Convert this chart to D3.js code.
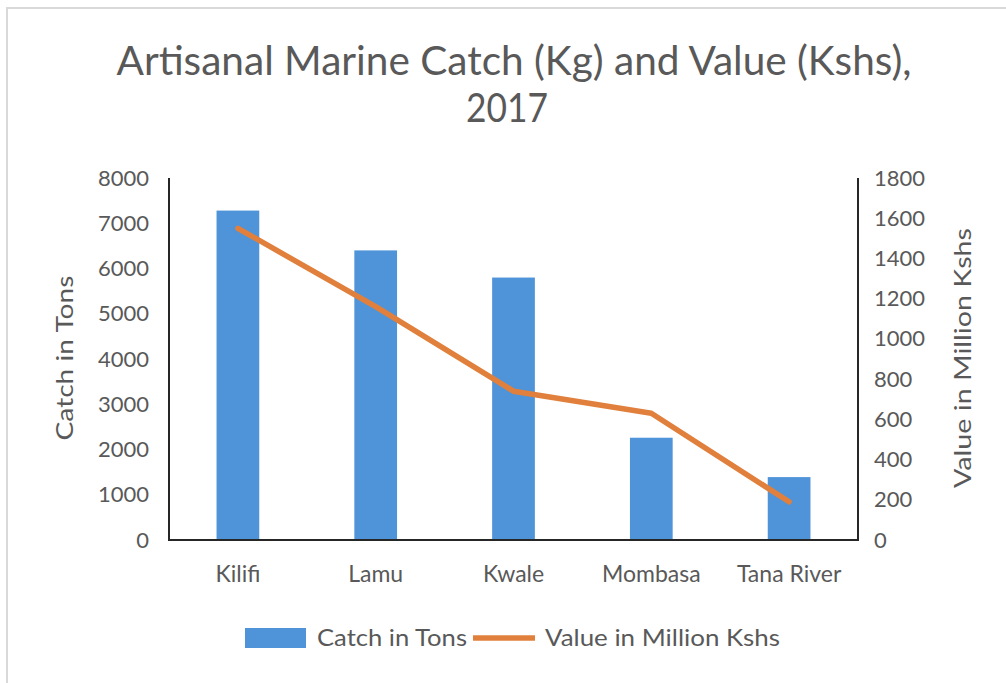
<!DOCTYPE html>
<html>
<head>
<meta charset="utf-8">
<script src="https://cdn.jsdelivr.net/npm/d3@7"></script>
<style>
  html, body { margin: 0; padding: 0; background: #fff; }
  svg { display: block; }
  text { font-family: Lato, "Open Sans", sans-serif; fill: #595959; }
</style>
</head>
<body>
<svg id="chart" width="1006" height="683"></svg>
<script>
// Artisanal marine catch by county, 2017
const counties = ["Kilifi", "Lamu", "Kwale", "Mombasa", "Tana River"];
const catchTons = [7280, 6400, 5800, 2260, 1390];
const valueMillionKshs = [1550, 1160, 740, 630, 190];
const catchTicks = [0, 1000, 2000, 3000, 4000, 5000, 6000, 7000, 8000];
const valueTicks = [0, 200, 400, 600, 800, 1000, 1200, 1400, 1600, 1800];

const svg = d3.select("#chart");
const W = 1006, H = 683;
const plot = { left: 169, right: 858, top: 178, bottom: 540 };

// Chart area frame
svg.append("rect")
  .attr("x", 7).attr("y", 8)
  .attr("width", W + 10).attr("height", H + 10)
  .attr("fill", "#fff")
  .attr("stroke", "#d9d9d9")
  .attr("stroke-width", 2);

// Title
const title = svg.append("g").attr("class", "title");
title.append("text")
  .attr("x", 514).attr("y", 75)
  .attr("text-anchor", "middle")
  .attr("font-size", 41)
  .attr("textLength", 795)
  .attr("lengthAdjust", "spacingAndGlyphs")
  .text("Artisanal Marine Catch (Kg) and Value (Kshs),");
title.append("text")
  .attr("x", 507).attr("y", 122)
  .attr("text-anchor", "middle")
  .attr("font-size", 41)
  .attr("textLength", 82)
  .attr("lengthAdjust", "spacingAndGlyphs")
  .text("2017");

// Scales
const x = d3.scaleBand()
  .domain(counties)
  .range([plot.left, plot.right])
  .paddingInner(0.69)
  .paddingOuter(0.345);
const yCatch = d3.scaleLinear().domain([0, 8000]).range([plot.bottom, plot.top]);
const yValue = d3.scaleLinear().domain([0, 1800]).range([plot.bottom, plot.top]);

// Bars: catch in tons
svg.append("g").selectAll("rect")
  .data(counties)
  .join("rect")
  .attr("x", d => x(d))
  .attr("width", x.bandwidth())
  .attr("y", (d, i) => yCatch(catchTons[i]))
  .attr("height", (d, i) => yCatch(0) - yCatch(catchTons[i]))
  .attr("fill", "#4f93d8");

// Line: value in million Kshs
const line = d3.line()
  .x((d, i) => x(counties[i]) + x.bandwidth() / 2)
  .y(d => yValue(d));
svg.append("path")
  .datum(valueMillionKshs)
  .attr("d", line)
  .attr("fill", "none")
  .attr("stroke", "#e0803c")
  .attr("stroke-width", 5.5)
  .attr("stroke-linejoin", "round")
  .attr("stroke-linecap", "round");

// Axes
const tickSize = 22;
const labelSize = 23;
const leftAxis = svg.append("g")
  .attr("transform", `translate(${plot.left},0)`)
  .call(d3.axisLeft(yCatch).tickValues(catchTicks).tickSize(0).tickPadding(20).tickFormat(d3.format("d")));
const rightAxis = svg.append("g")
  .attr("transform", `translate(${plot.right},0)`)
  .call(d3.axisRight(yValue).tickValues(valueTicks).tickSize(0).tickPadding(16).tickFormat(d3.format("d")));
const bottomAxis = svg.append("g")
  .attr("transform", `translate(0,${plot.bottom})`)
  .call(d3.axisBottom(x).tickSize(0).tickPadding(26));

[leftAxis, rightAxis].forEach(g => {
  g.select(".domain").remove();
  g.selectAll("text")
    .attr("font-size", tickSize)
    .attr("font-family", "Lato, 'Open Sans', sans-serif")
    .attr("fill", "#595959");
});
bottomAxis.select(".domain").remove();
bottomAxis.selectAll("text")
  .attr("font-size", labelSize)
  .attr("font-family", "Lato, 'Open Sans', sans-serif")
  .attr("fill", "#595959");

// Axis lines
const axisStroke = "#262626";
svg.append("line")
  .attr("x1", plot.left).attr("x2", plot.left)
  .attr("y1", plot.top).attr("y2", plot.bottom + 1)
  .attr("stroke", axisStroke).attr("stroke-width", 2);
svg.append("line")
  .attr("x1", plot.right).attr("x2", plot.right)
  .attr("y1", plot.top).attr("y2", plot.bottom + 1)
  .attr("stroke", axisStroke).attr("stroke-width", 2);
svg.append("line")
  .attr("x1", plot.left - 1).attr("x2", plot.right + 1)
  .attr("y1", plot.bottom).attr("y2", plot.bottom)
  .attr("stroke", axisStroke).attr("stroke-width", 2);

// Axis titles
svg.append("text")
  .attr("transform", `translate(73,358) rotate(-90)`)
  .attr("text-anchor", "middle")
  .attr("font-size", labelSize)
  .attr("textLength", 165)
  .attr("lengthAdjust", "spacingAndGlyphs")
  .text("Catch in Tons");
svg.append("text")
  .attr("transform", `translate(971,358) rotate(-90)`)
  .attr("text-anchor", "middle")
  .attr("font-size", labelSize)
  .attr("textLength", 260)
  .attr("lengthAdjust", "spacingAndGlyphs")
  .text("Value in Million Kshs");

// Legend
const legend = svg.append("g").attr("transform", "translate(0,638)");
legend.append("rect")
  .attr("x", 245).attr("y", -10)
  .attr("width", 61).attr("height", 20)
  .attr("fill", "#4f93d8");
legend.append("text")
  .attr("x", 317).attr("y", 0)
  .attr("dy", "0.35em")
  .attr("font-size", labelSize)
  .attr("textLength", 150)
  .attr("lengthAdjust", "spacingAndGlyphs")
  .text("Catch in Tons");
legend.append("line")
  .attr("x1", 473).attr("x2", 535)
  .attr("y1", 0).attr("y2", 0)
  .attr("stroke", "#e0803c").attr("stroke-width", 5.5);
legend.append("text")
  .attr("x", 545).attr("y", 0)
  .attr("dy", "0.35em")
  .attr("font-size", labelSize)
  .attr("textLength", 235)
  .attr("lengthAdjust", "spacingAndGlyphs")
  .text("Value in Million Kshs");
</script>
</body>
</html>
